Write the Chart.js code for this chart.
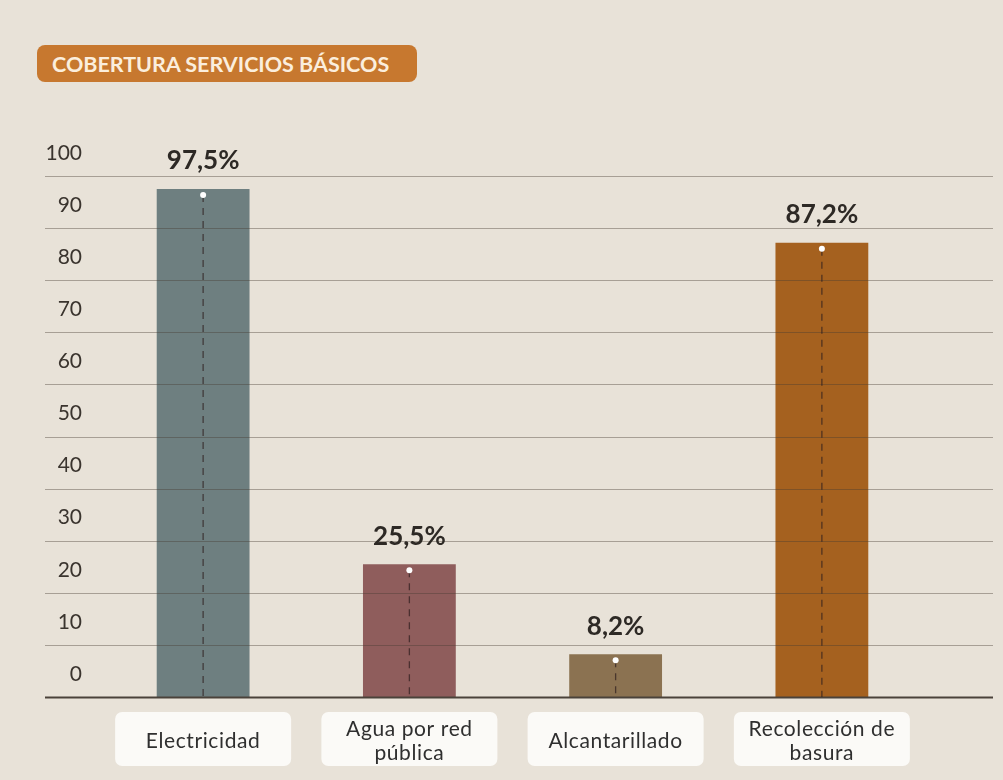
<!DOCTYPE html>
<html>
<head>
<meta charset="utf-8">
<script src="https://cdn.jsdelivr.net/npm/chart.js@4.4.0/dist/chart.umd.min.js"></script>
<style>
body{margin:0;background:#e8e2d8;}
#wrap{position:relative;width:1003px;height:780px;}
#badge{position:absolute;left:37px;top:45px;width:380px;height:37px;border-radius:8px;background:#c7782f;color:#fbeedd;font:bold 21.5px Lato;line-height:38px;padding-left:15px;box-sizing:border-box;white-space:nowrap}
</style>
</head>
<body>
<div id="wrap">
<canvas id="chart"></canvas>
<div id="badge">COBERTURA SERVICIOS BÁSICOS</div>
</div>
<script>
// datos
var categorias = [['Electricidad'], ['Agua por red', 'pública'], ['Alcantarillado'], ['Recolección de', 'basura']];
var valores = [97.5, 25.5, 8.2, 87.2];
var etiquetas = ['97,5%', '25,5%', '8,2%', '87,2%'];
var colores = ['#6e7f80', '#8f5d5c', '#8b7251', '#a5611f'];

// lineas, cajas y etiquetas
var adornos = {
  id: 'adornos',
  beforeDraw: function(chart){
    var ctx = chart.ctx;
    var xs = chart.scales.x;
    var base = chart.chartArea.bottom;
    ctx.save();
    for (var i = 0; i < categorias.length; i++) {
      var cx = xs.getPixelForTick(i);
      ctx.fillStyle = '#fbfaf7';
      ctx.beginPath();
      ctx.roundRect(cx - 88, base + 15, 176, 54, 7);
      ctx.fill();
      var lineas = categorias[i];
      ctx.fillStyle = '#2f2f2f';
      ctx.font = '21px Lato';
      ctx.letterSpacing = '0.6px';
      ctx.textAlign = 'center';
      ctx.textBaseline = 'middle';
      var y0 = base + 44 - (lineas.length - 1) * 12;
      for (var j = 0; j < lineas.length; j++) {
        ctx.fillText(lineas[j], cx, y0 + j * 24);
      }
    }
    ctx.restore();
  },
  afterDatasetsDraw: function(chart){
    var ctx = chart.ctx;
    var ys = chart.scales.y;
    ctx.save();
    // rejilla encima de las barras
    ys.ticks.forEach(function(t){
      var py = Math.round(ys.getPixelForValue(t.value)) + 0.5;
      ctx.beginPath();
      if (t.value == 0) {
        ctx.strokeStyle = '#4a423a';
        ctx.lineWidth = 2;
      } else {
        ctx.strokeStyle = 'rgba(70,60,50,0.4)';
        ctx.lineWidth = 1;
      }
      ctx.moveTo(45, py);
      ctx.lineTo(993, py);
      ctx.stroke();
    });
    var meta = chart.getDatasetMeta(0);
    meta.data.forEach(function(bar, i){
      ctx.setLineDash([7, 6]);
      ctx.strokeStyle = 'rgba(45,30,30,0.7)';
      ctx.lineWidth = 1.3;
      ctx.beginPath();
      ctx.moveTo(bar.x, bar.y + 6);
      ctx.lineTo(bar.x, bar.base);
      ctx.stroke();
      ctx.setLineDash([]);
      ctx.fillStyle = '#ffffff';
      ctx.beginPath();
      ctx.arc(bar.x, bar.y + 6, 3, 0, Math.PI * 2);
      ctx.fill();
      ctx.fillStyle = '#2d2925';
      ctx.font = 'bold 26px Lato';
      ctx.textAlign = 'center';
      ctx.textBaseline = 'middle';
      ctx.fillText(etiquetas[i], bar.x, bar.y - 28);
    });
    ctx.restore();
  }
};

var ctx = document.getElementById('chart').getContext('2d');
var grafico = new Chart(ctx, {
  type: 'bar',
  data: {
    labels: categorias,
    datasets: [{
      data: valores,
      backgroundColor: colores,
      barPercentage: 0.45,
      categoryPercentage: 1
    }]
  },
  options: {
    responsive: true,
    maintainAspectRatio: false,
    animation: false,
    layout: { padding: { top: 176, right: 78, left: 0, bottom: 0 } },
    plugins: { legend: { display: false }, tooltip: { enabled: false } },
    scales: {
      x: {
        grid: { display: false, drawTicks: false },
        border: { display: false },
        ticks: { display: false },
        afterFit: function(s){ s.height = 83; }
      },
      y: {
        min: 0,
        max: 100,
        grid: { display: false, drawTicks: false },
        border: { display: false },
        ticks: {
          stepSize: 10,
          padding: 18,
          labelOffset: -23,
          color: '#3a342e',
          font: { family: 'Lato', size: 21 }
        },
        afterFit: function(s){ s.width = 100; }
      }
    }
  },
  plugins: [adornos]
});
</script>
</body>
</html>
